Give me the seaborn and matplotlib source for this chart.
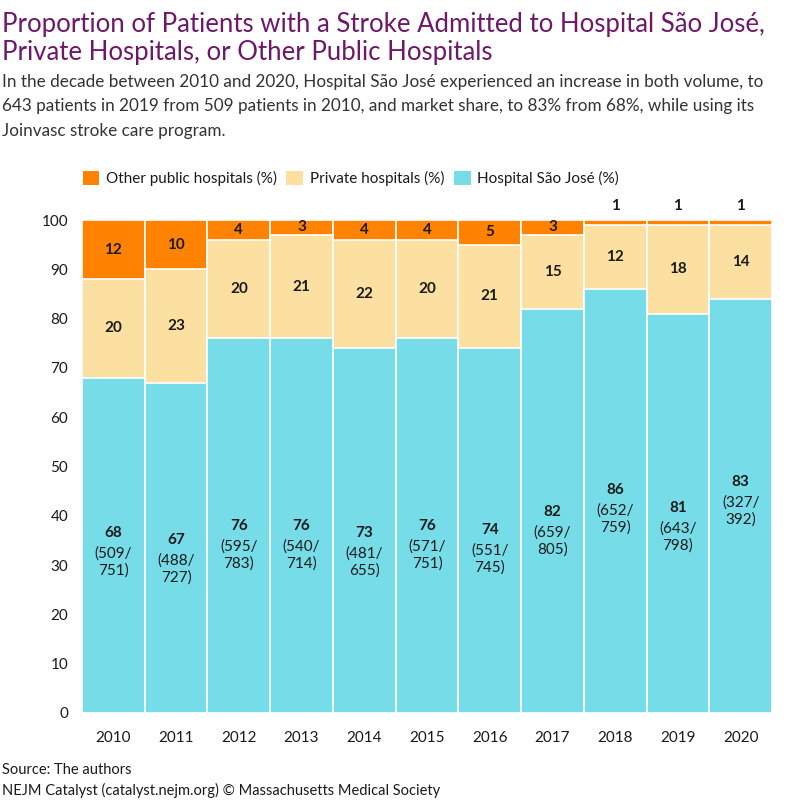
import matplotlib
matplotlib.use("Agg")
import matplotlib.pyplot as plt
import seaborn as sns
import pandas as pd
from matplotlib.patches import Patch

# --- data ---
years = ["2010", "2011", "2012", "2013", "2014", "2015", "2016", "2017", "2018", "2019", "2020"]
# drawn segment heights (%)
hsj = [68, 67, 76, 76, 74, 76, 74, 82, 86, 81, 84]
private = [20, 23, 20, 21, 22, 20, 21, 15, 13, 18, 15]
other_public = [12, 10, 4, 3, 4, 4, 5, 3, 1, 1, 1]
# printed labels
hsj_lab = [68, 67, 76, 76, 73, 76, 74, 82, 86, 81, 83]
hsj_counts = ["509/\n751)", "488/\n727)", "595/\n783)", "540/\n714)", "481/\n655)", "571/\n751)",
              "551/\n745)", "659/\n805)", "652/\n759)", "643/\n798)", "327/\n392)"]
private_lab = [20, 23, 20, 21, 22, 20, 21, 15, 12, 18, 14]
other_lab = [12, 10, 4, 3, 4, 4, 5, 3, 1, 1, 1]

# vertical centre of the text block inside the blue bars (data units)
hsj_text_y = [32.7, 31.2, 34.1, 34.1, 32.7, 34.1, 33.3, 36.9, 41.4, 37.7, 43.0]

df = pd.DataFrame({"year": years, "hsj": hsj, "private": private, "other": other_public})
df["mid"] = df["hsj"] + df["private"]
df["top"] = df["mid"] + df["other"]

c_other = "#FF8200"
c_private = "#FCE0A2"
c_hsj = "#76DCE8"
purple = "#6E1868"
txt = "#1a1a1a"

plt.rcParams["font.family"] = ["Lato", "DejaVu Sans"]

fig = plt.figure(figsize=(8, 8), dpi=100)
ax = fig.add_axes([0.1025, 0.10875, 0.8625, 0.61625])

bar_kw = dict(width=1.0, edgecolor="white", linewidth=1.2, saturation=1, ax=ax)
sns.barplot(data=df, x="year", y="top", color=c_other, **bar_kw)
sns.barplot(data=df, x="year", y="mid", color=c_private, **bar_kw)
sns.barplot(data=df, x="year", y="hsj", color=c_hsj, **bar_kw)

ax.set_xlim(-0.5, len(years) - 0.5)
ax.set_ylim(0, 100)
ax.set_yticks(range(0, 101, 10))
ax.tick_params(axis="both", length=0, labelsize=11, colors=txt)
ax.tick_params(axis="x", pad=13)
ax.tick_params(axis="y", pad=10)
ax.set_xlabel("")
ax.set_ylabel("")
for s in ax.spines.values():
    s.set_visible(False)

for i in range(len(years)):
    # Hospital Sao Jose
    yc = hsj_text_y[i]
    ax.text(i, yc + 3.8, str(hsj_lab[i]), ha="center", va="center",
            fontsize=11, fontweight="bold", color=txt)
    ax.text(i, yc - 2.0, "(" + hsj_counts[i], ha="center", va="center",
            fontsize=11, color=txt, linespacing=1.25)
    # private
    ax.text(i, hsj[i] + private[i] / 2, str(private_lab[i]), ha="center", va="center",
            fontsize=11, fontweight="bold", color=txt)
    # other public
    if other_public[i] >= 2:
        oy = df["mid"][i] + other_public[i] / 2
    else:
        oy = 102.8
    ax.text(i, oy, str(other_lab[i]), ha="center", va="center",
            fontsize=11, fontweight="bold", color=txt, clip_on=False)

handles = [Patch(facecolor=c_other, label="Other public hospitals (%)"),
           Patch(facecolor=c_private, label="Private hospitals (%)"),
           Patch(facecolor=c_hsj, label="Hospital São José (%)")]
fig.legend(handles=handles, loc="center left", bbox_to_anchor=(0.086, 0.777), ncol=3,
           frameon=False, fontsize=11, handlelength=1.1, handleheight=1.1,
           handletextpad=0.45, columnspacing=0.6, labelcolor=txt)

fig.text(0.003, 0.985, "Proportion of Patients with a Stroke Admitted to Hospital São José,\n"
         "Private Hospitals, or Other Public Hospitals",
         ha="left", va="top", fontsize=18.5, color=purple, linespacing=1.13)
fig.text(0.003, 0.907, "In the decade between 2010 and 2020, Hospital São José experienced an increase in both volume, to\n"
         "643 patients in 2019 from 509 patients in 2010, and market share, to 83% from 68%, while using its\n"
         "Joinvasc stroke care program.",
         ha="left", va="top", fontsize=12.3, color="#333333", linespacing=1.62)
fig.text(0.003, 0.037, "Source: The authors", ha="left", va="center", fontsize=10.5, color=txt)
fig.text(0.003, 0.002, "NEJM Catalyst (catalyst.nejm.org) © Massachusetts Medical Society",
         ha="left", va="bottom", fontsize=10.5, color=txt)

fig.savefig("out.png", dpi=100)
